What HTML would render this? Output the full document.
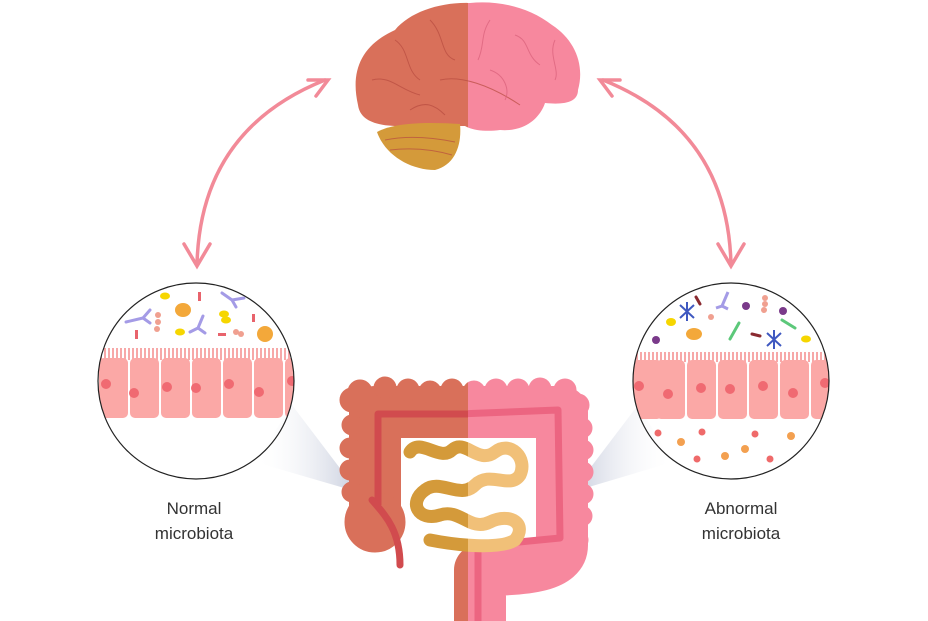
<!DOCTYPE html>
<html><head><meta charset="utf-8"><style>
html,body{margin:0;padding:0;background:#fff;}
svg{display:block;}
text{font-family:"Liberation Sans",sans-serif;font-size:17px;fill:#333;}
</style></head><body>
<svg width="928" height="621" viewBox="0 0 928 621" xmlns="http://www.w3.org/2000/svg">
<defs>
<clipPath id="cl"><circle cx="196" cy="381" r="98"/></clipPath>
<clipPath id="cr"><circle cx="731" cy="381" r="98"/></clipPath>
<clipPath id="leftHalf"><rect x="0" y="0" width="468" height="621"/></clipPath>
<clipPath id="rightHalf"><rect x="468" y="0" width="460" height="621"/></clipPath>
<linearGradient id="gl" x1="0" x2="1"><stop offset="0" stop-color="#fff" stop-opacity="0"/><stop offset="1" stop-color="#b9c0d4"/></linearGradient>
<linearGradient id="gr" x1="1" x2="0"><stop offset="0" stop-color="#fff" stop-opacity="0"/><stop offset="1" stop-color="#b9c0d4"/></linearGradient>
<pattern id="cil" width="4" height="12" patternUnits="userSpaceOnUse"><rect x="0" y="0" width="2" height="12" fill="#f7a8a8"/></pattern>
<g id="colon">
<path d="M375,525 L375,412 L562,412 L562,545 C562,565 530,570 480,570 L480,630" stroke-width="52" fill="none" stroke-linejoin="round"/>
<circle cx="375" cy="522" r="30"/>
<circle cx="352" cy="400" r="12"/><circle cx="360" cy="392" r="12"/><circle cx="385" cy="388" r="11"/><circle cx="408" cy="390" r="11"/><circle cx="430" cy="392" r="11"/><circle cx="452" cy="390" r="11"/><circle cx="474" cy="392" r="11"/><circle cx="496" cy="390" r="11"/><circle cx="518" cy="390" r="11"/><circle cx="540" cy="389" r="11"/><circle cx="565" cy="390" r="11"/><circle cx="578" cy="405" r="11"/>
<circle cx="352" cy="425" r="10"/><circle cx="350" cy="448" r="10"/><circle cx="350" cy="470" r="10"/><circle cx="352" cy="492" r="10"/>
<circle cx="582" cy="428" r="10"/><circle cx="583" cy="450" r="10"/><circle cx="583" cy="472" r="10"/><circle cx="583" cy="494" r="10"/><circle cx="582" cy="516" r="10"/><circle cx="578" cy="540" r="10"/><circle cx="570" cy="560" r="10"/><circle cx="545" cy="572" r="10"/><circle cx="520" cy="575" r="10"/>
</g>
</defs>

<!-- cones -->
<polygon points="255,462 292,405 358,492" fill="url(#gl)" opacity="0.8"/>
<polygon points="673,462 638,405 572,492" fill="url(#gr)" opacity="0.8"/>

<!-- arrows -->
<g stroke="#f28a98" stroke-width="3.5" fill="none" stroke-linecap="round">
<path d="M325,80 Q200,130 197,265"/>
<path d="M308,80 L328,80 L316,96"/>
<path d="M184,244 L197,266 L210,244"/>
<path d="M603,80 Q728,130 731,265"/>
<path d="M620,80 L600,80 L612,96"/>
<path d="M718,244 L731,266 L744,244"/>
</g>

<!-- brain -->
<g>
<path d="M358,105 C350,70 362,45 395,30 C410,12 440,2 470,3 C500,0 530,8 552,25 C575,40 585,65 578,90 C578,102 565,105 545,103 C540,118 525,132 500,130 C485,132 472,130 465,126 L400,126 C375,126 360,120 358,105Z" fill="#d9705a" clip-path="url(#leftHalf)"/>
<path d="M358,105 C350,70 362,45 395,30 C410,12 440,2 470,3 C500,0 530,8 552,25 C575,40 585,65 578,90 C578,102 565,105 545,103 C540,118 525,132 500,130 C485,132 472,130 465,126 L400,126 C375,126 360,120 358,105Z" fill="#f7889e" clip-path="url(#rightHalf)"/>
<path d="M377,132 C395,122 430,122 460,124 C462,145 455,165 435,170 C410,170 385,155 377,132Z" fill="#d49a3a"/>
<g stroke="#b84c40" stroke-width="1" fill="none" opacity="0.7">
<path d="M395,40 C410,50 405,70 420,80"/><path d="M430,20 C445,35 440,55 455,60"/><path d="M372,80 C390,75 400,90 420,95"/><path d="M440,80 C460,75 490,85 520,105"/><path d="M410,110 C425,100 435,105 445,115"/>
<path d="M385,140 C410,135 435,138 455,142"/><path d="M390,150 C415,147 435,150 452,155"/>
</g>
<g stroke="#d9607a" stroke-width="1" fill="none" opacity="0.7">
<path d="M490,20 C480,35 485,45 478,60"/><path d="M515,35 C530,40 525,55 540,65"/><path d="M555,40 C548,55 560,70 555,80"/><path d="M490,70 C505,75 510,90 505,100"/>
</g>
</g>

<!-- circles -->
<g clip-path="url(#cl)">
<rect x="90" y="348" width="220" height="12" fill="url(#cil)"/>
<g fill="#fba8a6">
<rect x="60" y="358" width="29" height="60" rx="5"/><rect x="99" y="358" width="29" height="60" rx="5"/><rect x="130" y="358" width="29" height="60" rx="5"/><rect x="161" y="358" width="29" height="60" rx="5"/><rect x="192" y="358" width="29" height="60" rx="5"/><rect x="223" y="358" width="29" height="60" rx="5"/><rect x="254" y="358" width="29" height="60" rx="5"/><rect x="285" y="358" width="29" height="60" rx="5"/>
</g>
<g fill="#f06a72">
<circle cx="106" cy="384" r="5"/><circle cx="134" cy="393" r="5"/><circle cx="167" cy="387" r="5"/><circle cx="196" cy="388" r="5"/><circle cx="229" cy="384" r="5"/><circle cx="259" cy="392" r="5"/><circle cx="292" cy="381" r="5"/>
</g>
<ellipse cx="165" cy="296" rx="5" ry="3.5" fill="#f6d600"/><ellipse cx="183" cy="310" rx="8" ry="7" fill="#f3a83a"/><ellipse cx="180" cy="332" rx="5" ry="3.5" fill="#f6d600"/><ellipse cx="224" cy="314" rx="5" ry="3.5" fill="#f6d600"/><ellipse cx="226" cy="320" rx="5" ry="3.5" fill="#f6d600"/><ellipse cx="265" cy="334" rx="8" ry="8" fill="#f3a83a"/>
<g stroke="#a49be6" stroke-width="3" fill="none" stroke-linecap="round"><path d="M126,322 L143,318 L150,310 M143,318 L150,323"/><path d="M203,316 L198,328 L190,332 M198,328 L205,333"/><path d="M222,293 L232,300 L244,298 M232,300 L236,307"/></g>
<g fill="#e8636c"><rect x="198" y="292" width="3" height="9"/><rect x="135" y="330" width="3" height="9"/><rect x="218" y="333" width="8" height="3"/><rect x="252" y="314" width="3" height="8"/></g>
<g fill="#f0a090"><circle cx="158" cy="315" r="3"/><circle cx="158" cy="322" r="3"/><circle cx="157" cy="329" r="3"/><circle cx="236" cy="332" r="3"/><circle cx="241" cy="334" r="3"/></g>
</g>
<circle cx="196" cy="381" r="98" fill="none" stroke="#222" stroke-width="1.2"/>

<g clip-path="url(#cr)">
<rect x="625" y="352" width="220" height="10" fill="url(#cil)"/>
<g fill="#fba8a6">
<rect x="600" y="360" width="29" height="59" rx="5"/><rect x="633" y="360" width="29" height="59" rx="5"/><rect x="656" y="360" width="29" height="59" rx="5"/><rect x="687" y="360" width="29" height="59" rx="5"/><rect x="718" y="360" width="29" height="59" rx="5"/><rect x="749" y="360" width="29" height="59" rx="5"/><rect x="780" y="360" width="29" height="59" rx="5"/><rect x="811" y="360" width="29" height="59" rx="5"/>
</g>
<g fill="#f06a72"><circle cx="639" cy="386" r="5"/><circle cx="668" cy="394" r="5"/><circle cx="701" cy="388" r="5"/><circle cx="730" cy="389" r="5"/><circle cx="763" cy="386" r="5"/><circle cx="793" cy="393" r="5"/><circle cx="825" cy="383" r="5"/></g>
<g fill="#ef6a6a"><circle cx="658" cy="433" r="3.5"/><circle cx="702" cy="432" r="3.5"/><circle cx="697" cy="459" r="3.5"/><circle cx="755" cy="434" r="3.5"/><circle cx="770" cy="459" r="3.5"/></g>
<g fill="#f3a050"><circle cx="681" cy="442" r="4"/><circle cx="725" cy="456" r="4"/><circle cx="745" cy="449" r="4"/><circle cx="791" cy="436" r="4"/></g>
<ellipse cx="671" cy="322" rx="5" ry="4" fill="#f6d600"/><ellipse cx="694" cy="334" rx="8" ry="6" fill="#f3a83a"/><ellipse cx="806" cy="339" rx="5" ry="3.5" fill="#f6d600"/>
<g stroke="#3f58c0" stroke-width="2"><path d="M680,305 L694,318 M694,305 L680,318 M687,302 L687,321"/><path d="M767,333 L781,346 M781,333 L767,346 M774,330 L774,349"/></g>
<g fill="#7a3a8a"><circle cx="656" cy="340" r="4"/><circle cx="746" cy="306" r="4"/><circle cx="783" cy="311" r="4"/></g>
<g stroke="#5cc87a" stroke-width="3" stroke-linecap="round"><path d="M730,339 L739,323"/><path d="M782,320 L795,328"/></g>
<g stroke="#8a2a30" stroke-width="3" stroke-linecap="round"><path d="M696,297 L700,304"/><path d="M752,334 L760,336"/></g>
<path d="M728,292 L722,306 L716,308 M722,306 L728,309" stroke="#a49be6" stroke-width="3" fill="none"/>
<g fill="#f0a090"><circle cx="765" cy="298" r="3"/><circle cx="765" cy="304" r="3"/><circle cx="764" cy="310" r="3"/><circle cx="711" cy="317" r="3"/></g>
</g>
<circle cx="731" cy="381" r="98" fill="none" stroke="#222" stroke-width="1.2"/>

<!-- intestine -->
<g clip-path="url(#leftHalf)">
<use href="#colon" fill="#d9705a" stroke="#d9705a"/>
<path d="M378,505 L378,414 L470,414" stroke="#d14b4e" stroke-width="7" fill="none" stroke-linejoin="round"/>
<path d="M372,500 C385,515 400,530 400,565" stroke="#d14b4e" stroke-width="7" fill="none" stroke-linecap="round"/>
<path d="M410,452 C420,437 440,462 452,450 C465,438 478,465 495,452 C510,440 528,458 520,475 C510,490 490,470 475,485 C460,500 440,478 425,490 C408,502 418,522 440,515 C460,508 470,532 490,522 C510,512 528,524 515,540 C500,550 455,545 430,540" stroke="#d49a3a" stroke-width="13" fill="none" stroke-linecap="round"/>
</g>
<g clip-path="url(#rightHalf)">
<use href="#colon" fill="#f7889e" stroke="#f7889e"/>
<path d="M460,414 L558,410 L560,538 L478,546 L478,630" stroke="#ec6581" stroke-width="7" fill="none" stroke-linejoin="round"/>
<path d="M410,452 C420,437 440,462 452,450 C465,438 478,465 495,452 C510,440 528,458 520,475 C510,490 490,470 475,485 C460,500 440,478 425,490 C408,502 418,522 440,515 C460,508 470,532 490,522 C510,512 528,524 515,540 C500,550 455,545 430,540" stroke="#f1c078" stroke-width="13" fill="none" stroke-linecap="round"/>
</g>

<text x="194" y="514" text-anchor="middle">Normal</text>
<text x="194" y="539" text-anchor="middle">microbiota</text>
<text x="741" y="514" text-anchor="middle">Abnormal</text>
<text x="741" y="539" text-anchor="middle">microbiota</text>
</svg>
</body></html>
